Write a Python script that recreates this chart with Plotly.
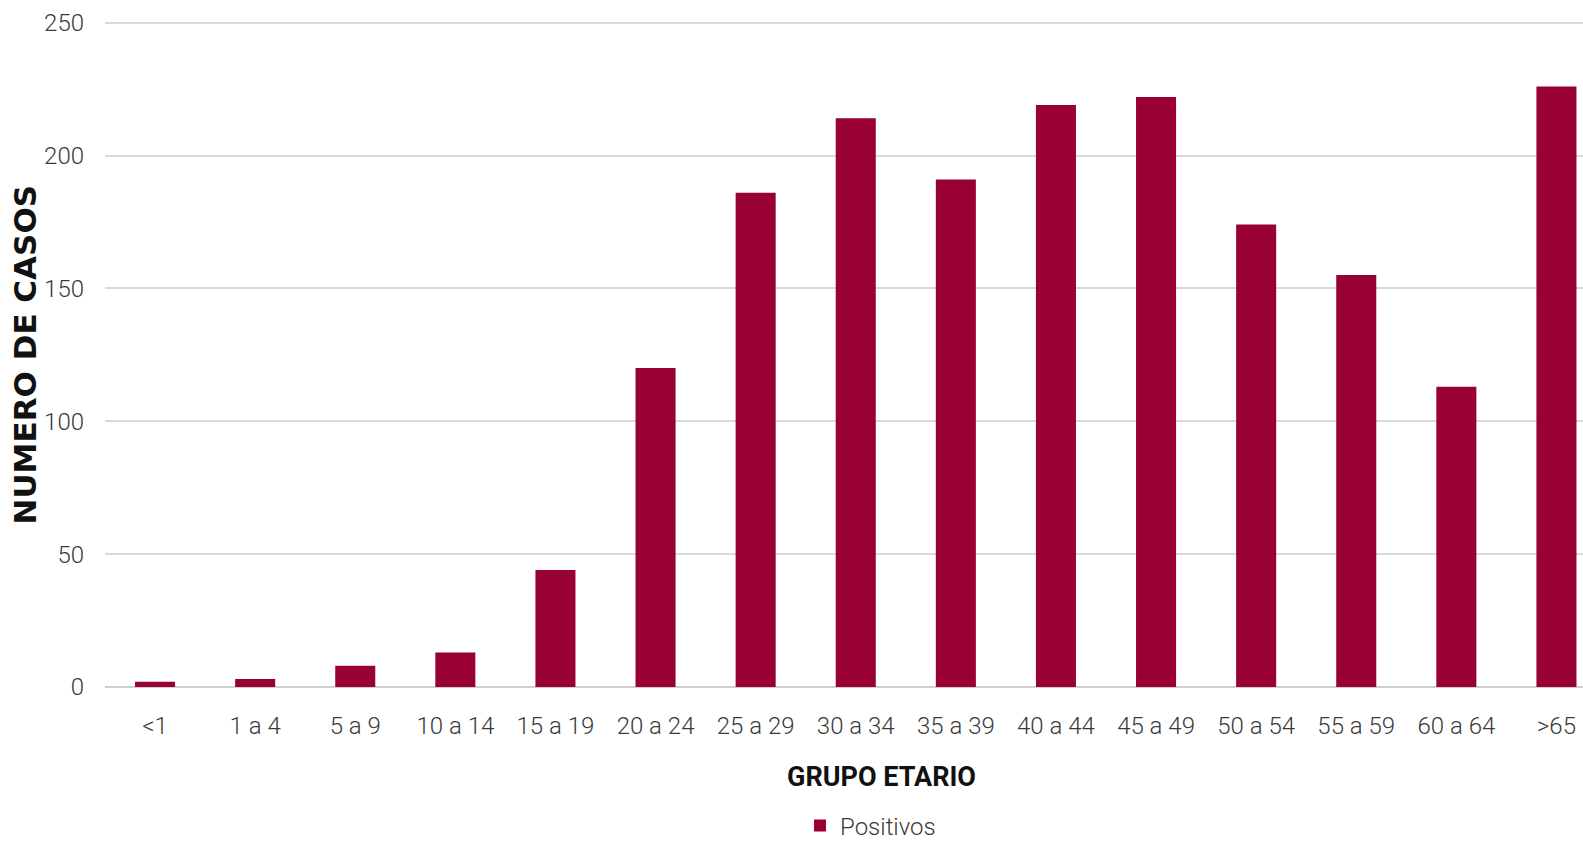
import plotly.graph_objects as go

categories = ["<1", "1 a 4", "5 a 9", "10 a 14", "15 a 19", "20 a 24", "25 a 29",
              "30 a 34", "35 a 39", "40 a 44", "45 a 49", "50 a 54", "55 a 59",
              "60 a 64", ">65"]
positivos = [2, 3, 8, 13, 44, 120, 186, 214, 191, 219, 222, 174, 155, 113, 226]
y_ticks = [0, 50, 100, 150, 200, 250]

W, H = 1583, 841
ml, mr, mt, mb = 105, 0, 20, 154
pw, ph = W - ml - mr, H - mt - mb
y_top = 251

tick_font = dict(family="Roboto, sans-serif", size=24, color="#3a3a3a", weight=300)

fig = go.Figure()
fig.add_trace(go.Bar(
    x=categories, y=positivos, name="Positivos",
    marker=dict(color="#990033", line=dict(width=0)),
))

fig.update_layout(
    width=W, height=H,
    margin=dict(l=ml, r=mr, t=mt, b=mb, pad=0, autoexpand=False),
    paper_bgcolor="white", plot_bgcolor="white",
    bargap=0.6,
    showlegend=True,
    legend=dict(
        orientation="h", x=(800 - ml) / pw, xanchor="left",
        y=(ph + mt - 826) / ph, yanchor="middle",
        font=tick_font, bgcolor="rgba(0,0,0,0)",
    ),
    xaxis=dict(
        type="category", range=[-0.5, -0.5 + pw / 100.1], automargin=False,
        showgrid=False, showline=False, zeroline=False,
        tickfont=tick_font, ticks="", ticklabelstandoff=22,
    ),
    yaxis=dict(
        range=[0, y_top], tickvals=y_ticks, automargin=False,
        showgrid=True, gridcolor="#d9d9d9", gridwidth=1.5,
        zeroline=True, zerolinecolor="#d0d0d0", zerolinewidth=2,
        showline=False, tickfont=tick_font, ticks="", ticklabelstandoff=20,
    ),
    annotations=[
        dict(text="<b>NUMERO DE CASOS</b>", xref="paper", yref="paper",
             x=(24.5 - ml) / pw, y=(mt + ph - 355) / ph, xanchor="center", yanchor="middle",
             textangle=-90, showarrow=False,
             font=dict(family="DejaVu Sans", size=31, color="#111111")),
        dict(text="<b>GRUPO ETARIO</b>", xref="paper", yref="paper",
             x=(882 - ml) / pw, y=(mt + ph - 777) / ph, xanchor="center", yanchor="middle",
             showarrow=False,
             font=dict(family="Roboto, sans-serif", size=27, color="#111111")),
    ],
)

fig.write_html(
    "out.html",
    config={"displayModeBar": False},
    post_script="document.body.style.margin='0';document.body.style.overflow='hidden';",
)
